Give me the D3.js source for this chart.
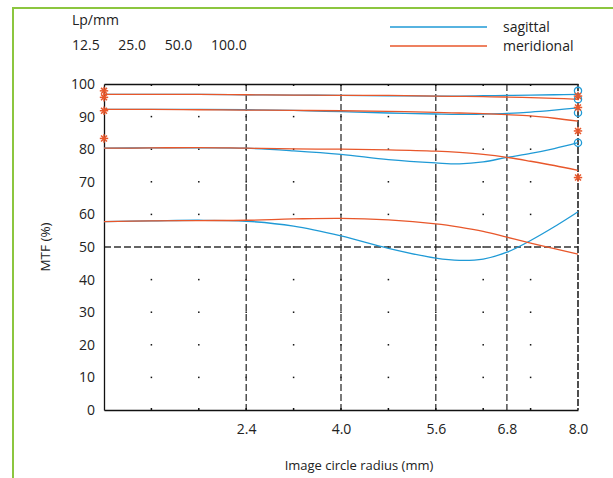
<!DOCTYPE html>
<html><head><meta charset="utf-8">
<script src="https://cdn.jsdelivr.net/npm/d3@7"></script>
<style>
html,body{margin:0;padding:0;background:#fff;}
svg{display:block;}
text{font-family:"Open Sans",sans-serif;fill:#222;}
</style></head>
<body>
<script>
// ---- data ----
const radius = [0, 0.8, 1.6, 2.4, 3.2, 4.0, 4.8, 5.6, 6.0, 6.4, 6.8, 7.2, 7.6, 8.0];
const sag125 = [96.8,96.8,96.8,96.7,96.6,96.5,96.4,96.3,96.3,96.4,96.5,96.6,96.7,96.8];
const mer125 = [96.8,96.8,96.8,96.7,96.6,96.5,96.5,96.3,96.2,96.1,96.0,95.8,95.6,95.3];
const sag25  = [92.2,92.2,92.2,92.1,91.9,91.5,91.1,90.8,90.7,90.8,91.0,91.4,92.0,92.7];
const mer25  = [92.2,92.2,92.1,92.0,91.9,91.8,91.6,91.3,91.1,90.9,90.6,90.2,89.5,88.6];
const sag50  = [80.3,80.4,80.4,80.3,79.5,78.4,76.8,75.8,75.5,76.1,77.5,78.7,80.2,82.0];
const mer50  = [80.3,80.4,80.5,80.3,80.1,80.0,79.8,79.4,79.0,78.4,77.5,76.3,75.0,73.5];
const sag100 = [57.8,58.0,58.2,57.9,56.4,53.4,49.6,46.6,45.9,46.3,48.4,52.0,56.2,60.8];
const mer100 = [57.8,58.0,58.1,58.2,58.6,58.8,58.3,57.1,56.1,54.8,53.0,51.2,49.5,47.8];
const leftStars   = [97.9, 95.9, 91.8, 83.3];   // at radius 0
const rightStars  = [96.3, 92.8, 85.6, 71.3];   // at radius 8
const rightCircles= [97.9, 95.3, 91.2, 82.0];   // at radius 8
const xTickValues = [2.4, 4.0, 5.6, 6.8, 8.0];
const xTickLabels = ["2.4", "4.0", "5.6", "6.8", "8.0"];
const yTickValues = [0,10,20,30,40,50,60,70,80,90,100];
const dotX = [0.8,1.6,2.4,3.2,4.0,4.8,5.6,6.4,7.2];
const dotY = [10,20,30,40,50,60,70,80,90];
const freqLabels = ["12.5","25.0","50.0","100.0"];
const legendNames = ["sagittal","meridional"];

// ---- drawing ----
const W = 613, H = 478;
const BLUE = "#1f9ad6", ORANGE = "#e8572b";
const svg = d3.select("body").append("svg").attr("width", W).attr("height", H);

// green frame
svg.append("line").attr("x1",13).attr("x2",13).attr("y1",7).attr("y2",H).attr("stroke","#8cc63f").attr("stroke-width",2);
svg.append("line").attr("x1",12).attr("x2",W).attr("y1",8).attr("y2",8).attr("stroke","#8cc63f").attr("stroke-width",2);

const x = d3.scaleLinear().domain([0, 8]).range([104, 578]);
const y = d3.scaleLinear().domain([0, 100]).range([410, 84]);

// dots grid
const g = svg.append("g");
dotX.forEach(dx => dotY.forEach(dy => {
  g.append("rect").attr("x", x(dx)-0.75).attr("y", y(dy)-0.75).attr("width",1.5).attr("height",1.5).attr("fill","#111");
}));

// dashed verticals
[2.4,4.0,5.6,6.8].forEach(v => {
  g.append("line").attr("x1",x(v)).attr("x2",x(v)).attr("y1",y(100)).attr("y2",y(0))
   .attr("stroke","#333").attr("stroke-width",1.3).attr("stroke-dasharray","7,3");
});
// dashed horizontal at 50
g.append("line").attr("x1",x(0)).attr("x2",x(8)).attr("y1",y(50)).attr("y2",y(50))
 .attr("stroke","#333").attr("stroke-width",1.3).attr("stroke-dasharray","7,3");

// bottom axis
const xAxis = d3.axisBottom(x).tickValues(xTickValues).tickFormat((d,i)=>xTickLabels[i]).tickSize(0).tickPadding(14);
const gx = svg.append("g").attr("transform",`translate(0,${y(0)})`).call(xAxis);
gx.select(".domain").attr("stroke","#111").attr("stroke-width",1.3);
gx.selectAll("text").attr("font-size",14).attr("font-family","Open Sans").attr("fill","#222");

// top axis line
const xTop = d3.axisTop(x).tickValues([]).tickSize(0);
const gt = svg.append("g").attr("transform",`translate(0,${y(100)})`).call(xTop);
gt.select(".domain").attr("stroke","#111").attr("stroke-width",1.3);
// small ticks on top/bottom
dotX.forEach(dx => {
  g.append("rect").attr("x", x(dx)-0.75).attr("y", y(100)).attr("width",1.5).attr("height",2).attr("fill","#111");
  g.append("rect").attr("x", x(dx)-0.75).attr("y", y(0)-2).attr("width",1.5).attr("height",2).attr("fill","#111");
});

// left axis
const yAxis = d3.axisLeft(y).tickValues(yTickValues).tickSize(0).tickPadding(9);
const gy = svg.append("g").attr("transform",`translate(${x(0)},0)`).call(yAxis);
gy.select(".domain").attr("stroke","#111").attr("stroke-width",1.3);
gy.selectAll("text").attr("font-size",14).attr("font-family","Open Sans").attr("fill","#222");

// right dashed line
svg.append("line").attr("x1",x(8)).attr("x2",x(8)).attr("y1",y(100)).attr("y2",y(0))
 .attr("stroke","#222").attr("stroke-width",1.6).attr("stroke-dasharray","7,2");

// curves
const line = d3.line().x((d,i)=>x(radius[i])).y(d=>y(d)).curve(d3.curveCatmullRom.alpha(0.5));
const series = [
  [sag125, BLUE],[mer125, ORANGE],[sag25, BLUE],[mer25, ORANGE],
  [sag50, BLUE],[mer50, ORANGE],[sag100, BLUE],[mer100, ORANGE]
];
series.forEach(([vals,col]) => {
  svg.append("path").datum(vals).attr("d", line).attr("fill","none").attr("stroke",col).attr("stroke-width",1.3);
});

// markers
function star(cx, cy){
  const r = 4.2;
  const s = svg.append("g").attr("transform",`translate(${cx},${cy})`);
  [0,45,90,135].forEach(a=>{
    const rad = a*Math.PI/180;
    s.append("line").attr("x1",-r*Math.cos(rad)).attr("y1",-r*Math.sin(rad))
     .attr("x2",r*Math.cos(rad)).attr("y2",r*Math.sin(rad))
     .attr("stroke",ORANGE).attr("stroke-width",1.5);
  });
}
rightCircles.forEach(v=>{
  svg.append("circle").attr("cx",x(8)).attr("cy",y(v)).attr("r",3.6)
   .attr("fill","none").attr("stroke",BLUE).attr("stroke-width",1.3);
});
leftStars.forEach(v=>star(x(0), y(v)));
rightStars.forEach(v=>star(x(8), y(v)));

// axis titles
svg.append("text").attr("x",359).attr("y",470).attr("text-anchor","middle")
  .attr("font-size",13).text("Image circle radius (mm)");
svg.append("text").attr("transform",`translate(50,${(y(0)+y(100))/2}) rotate(-90)`)
  .attr("text-anchor","middle").attr("font-size",13.5).text("MTF (%)");

// header
svg.append("text").attr("x",72).attr("y",25).attr("font-size",14).text("Lp/mm");
const hx = d3.scalePoint().domain(freqLabels).range([72, 211]);
freqLabels.forEach(f=>{
  svg.append("text").attr("x",hx(f)).attr("y",50).attr("font-size",14).text(f);
});

// legend
[[BLUE,27],[ORANGE,46]].forEach(([c,ly],i)=>{
  svg.append("line").attr("x1",390).attr("x2",487).attr("y1",ly).attr("y2",ly).attr("stroke",c).attr("stroke-width",1.4);
  svg.append("text").attr("x",503).attr("y",ly+5).attr("font-size",14).text(legendNames[i]);
});
</script>
</body></html>
